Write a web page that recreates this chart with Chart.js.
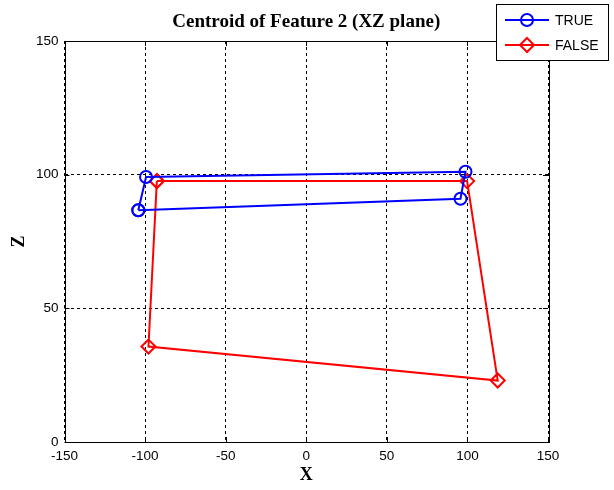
<!DOCTYPE html>
<html>
<head>
<meta charset="utf-8">
<script src="https://cdn.jsdelivr.net/npm/chart.js@4.4.1/dist/chart.umd.min.js"></script>
<style>
html,body{margin:0;padding:0;background:#fff;}
#wrap{width:614px;height:490px;position:relative;}
</style>
</head>
<body>
<div id="wrap"><canvas id="c" width="614" height="490"></canvas></div>
<script>
const chartTitle = "Centroid of Feature 2 (XZ plane)";
const xLabel = "X";
const yLabel = "Z";
const xTicks = [-150, -100, -50, 0, 50, 100, 150];
const yTicks = [0, 50, 100, 150];
const seriesNames = ["TRUE", "FALSE"];
const trueX = [-104.2, -99.4, 98.8, 95.7, -104.2];
const trueZ = [86.7, 99.1, 101.1, 91.0, 86.7];
const falseX = [-92.7, 99.8, 118.8, -97.9, -92.7];
const falseZ = [97.6, 97.6, 23.0, 35.7, 97.6];

const toPts = (xs, ys) => xs.map((x, i) => ({x: x, y: ys[i]}));

const framePlugin = {
  id: 'frame',
  afterDraw(chart) {
    const ctx = chart.ctx;
    const a = chart.chartArea;
    const xs = chart.scales.x, ys = chart.scales.y;
    ctx.save();
    ctx.strokeStyle = '#000';
    ctx.lineWidth = 1;
    ctx.setLineDash([]);
    ctx.strokeRect(Math.round(a.left) + 0.5, Math.round(a.top) + 0.5, Math.round(a.right - a.left), Math.round(a.bottom - a.top));
    // inner tick marks
    ctx.beginPath();
    xTicks.forEach(v => {
      const px = Math.round(xs.getPixelForValue(v)) + 0.5;
      ctx.moveTo(px, a.bottom); ctx.lineTo(px, a.bottom - 5);
      ctx.moveTo(px, a.top); ctx.lineTo(px, a.top + 5);
    });
    yTicks.forEach(v => {
      const py = Math.round(ys.getPixelForValue(v)) + 0.5;
      ctx.moveTo(a.left, py); ctx.lineTo(a.left + 5, py);
      ctx.moveTo(a.right, py); ctx.lineTo(a.right - 5, py);
    });
    ctx.stroke();
    // title
    ctx.fillStyle = '#000';
    ctx.font = 'bold 19px "Liberation Serif", "Times New Roman", serif';
    ctx.textAlign = 'center';
    ctx.textBaseline = 'middle';
    ctx.fillText(chartTitle, (a.left + a.right) / 2, 22);
    // legend
    const lx = 496.5, ly = 4.5, lw = 112, lh = 56;
    ctx.fillStyle = '#fff';
    ctx.fillRect(lx, ly, lw, lh);
    ctx.strokeStyle = '#000';
    ctx.strokeRect(lx, ly, lw, lh);
    chart.data.datasets.forEach((ds, i) => {
      const yy = 20 + i * 25;
      ctx.strokeStyle = ds.borderColor;
      ctx.lineWidth = 2;
      ctx.beginPath();
      ctx.moveTo(505, yy); ctx.lineTo(549, yy);
      ctx.stroke();
      ctx.beginPath();
      if (ds.pointStyle === 'circle') {
        ctx.arc(527, yy, 6, 0, Math.PI * 2);
      } else {
        ctx.moveTo(527, yy - 7); ctx.lineTo(534, yy); ctx.lineTo(527, yy + 7); ctx.lineTo(520, yy); ctx.closePath();
      }
      ctx.stroke();
      ctx.fillStyle = '#000';
      ctx.font = '14px "Liberation Sans", Arial, sans-serif';
      ctx.textAlign = 'left';
      ctx.fillText(ds.label, 555, yy + 1);
    });
    ctx.restore();
  }
};

new Chart(document.getElementById('c'), {
  type: 'scatter',
  data: {
    datasets: [
      {
        label: seriesNames[0],
        data: toPts(trueX, trueZ),
        showLine: true,
        borderColor: '#0000ff',
        backgroundColor: 'rgba(0,0,0,0)',
        borderWidth: 2,
        pointStyle: 'circle',
        pointRadius: 6,
        pointBorderWidth: 2,
        pointBorderColor: '#0000ff',
        pointBackgroundColor: 'rgba(0,0,0,0)',
        tension: 0
      },
      {
        label: seriesNames[1],
        data: toPts(falseX, falseZ),
        showLine: true,
        borderColor: '#ff0000',
        backgroundColor: 'rgba(0,0,0,0)',
        borderWidth: 2,
        pointStyle: 'rectRot',
        pointRadius: 7,
        pointBorderWidth: 2,
        pointBorderColor: '#ff0000',
        pointBackgroundColor: 'rgba(0,0,0,0)',
        tension: 0
      }
    ]
  },
  options: {
    responsive: false,
    animation: false,
    devicePixelRatio: 1,
    layout: { padding: { left: 0, right: 66, top: 41, bottom: 0 } },
    plugins: {
      legend: { display: false },
      title: { display: false },
      tooltip: { enabled: false }
    },
    scales: {
      x: {
        type: 'linear',
        min: -150, max: 150,
        afterBuildTicks: s => { s.ticks = xTicks.map(v => ({value: v})); },
        afterFit: s => { s.height = 48; },
        grid: { color: '#000', lineWidth: 1, drawTicks: false },
        border: { display: false, dash: [3, 3] },
        ticks: { color: '#000', padding: 6, maxRotation: 0, font: { family: '"Liberation Sans", Arial, sans-serif', size: 13.5 } },
        title: { display: true, text: xLabel, color: '#000', padding: { top: 2, bottom: 4 }, font: { family: '"Liberation Serif", "Times New Roman", serif', size: 18, weight: 'bold' } }
      },
      y: {
        type: 'linear',
        min: 0, max: 150,
        afterBuildTicks: s => { s.ticks = yTicks.map(v => ({value: v})); },
        afterFit: s => { s.width = 64.5; },
        grid: { color: '#000', lineWidth: 1, drawTicks: false },
        border: { display: false, dash: [3, 3] },
        ticks: { color: '#000', padding: 6, font: { family: '"Liberation Sans", Arial, sans-serif', size: 13.5 } },
        title: { display: true, text: yLabel, color: '#000', padding: { top: 9, bottom: 0 }, font: { family: '"Liberation Serif", "Times New Roman", serif', size: 18, weight: 'bold' } }
      }
    }
  },
  plugins: [framePlugin]
});
</script>
</body>
</html>
